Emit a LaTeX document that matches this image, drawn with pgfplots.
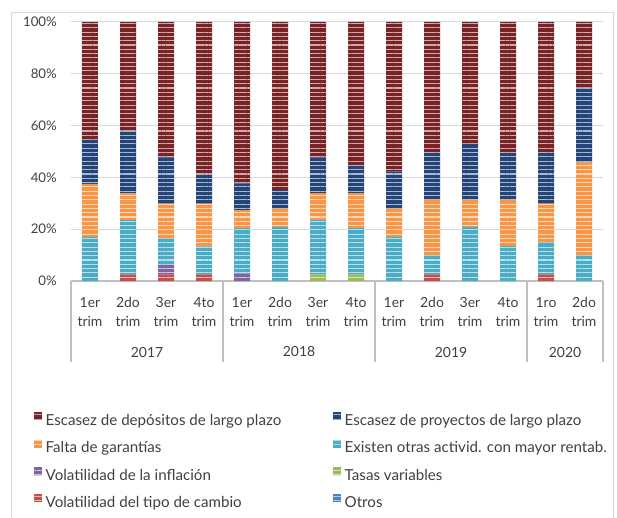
\documentclass[border=0pt]{standalone}
\usepackage{fontspec}
\setmainfont{Lato}
\usepackage{pgfplots}
\usepackage{pgfplotstable}
\pgfplotsset{compat=1.18}
\usetikzlibrary{patterns.meta}
\definecolor{cdred}{HTML}{782426}
\definecolor{cdblue}{HTML}{24457A}
\definecolor{corange}{HTML}{F79646}
\definecolor{ccyan}{HTML}{4BACC6}
\definecolor{cpurple}{HTML}{8064A2}
\definecolor{cgreen}{HTML}{9BBB59}
\definecolor{cred}{HTML}{C0504D}
\definecolor{cotros}{HTML}{4F81BD}
\definecolor{ctext}{HTML}{404040}
\definecolor{cgrid}{HTML}{D9D9D9}
\definecolor{csep}{HTML}{BFBFBF}
\definecolor{cframe}{HTML}{D9D9D9}

\pgfplotstableread{
x otros red green purple cyan orange dblue dred
0  0 0   0   0   17.0 20.5 17.0 45.5
1  0 2.6 0   0   20.9 10.3 24.2 42.0
2  0 2.6 0   3.6 10.2 13.5 17.7 52.4
3  0 2.6 0   0   10.8 16.5 11.0 59.1
4  0 0   0   2.8 17.6 7.0  10.3 62.3
5  0 0   0   0   20.9 7.0  7.2  64.9
6  0 0   2.6 0   20.9 10.4 13.7 52.4
7  0 0   2.6 0   17.8 13.5 10.5 55.6
8  0 0   0   0   17.0 10.9 14.3 57.8
9  0 2.6 0   0   7.3  21.5 18.0 50.6
10 0 0   0   0   20.9 10.5 21.5 47.1
11 0 0   0   0   13.5 17.9 18.0 50.6
12 0 2.6 0   0   12.2 15.1 19.5 50.6
13 0 0   0   0   9.9  35.9 28.8 25.4
}\data

\pgfplotsset{
  striped/.style={fill=#1, draw=none,
    postaction={pattern={Lines[angle=0,distance=4.3bp,line width=1.1bp]}, pattern color=white!62!#1},
    legend image code/.code={\path[##1,draw=none] (0bp,0bp) rectangle (8bp,8bp);}},
}
\newcommand\legent[1]{\makebox[287bp][l]{\rule[-4bp]{0pt}{16bp}#1}}
\newcommand\tfont{\fontsize{14}{19}\selectfont}
\newcommand\yfont{\fontsize{13.3}{16}\selectfont}
\newcommand\lfont{\fontsize{15.2}{18}\selectfont}

\begin{document}
\begin{tikzpicture}[x=1bp,y=1bp]
\useasboundingbox (-71,-237) rectangle (546,281);
\draw[cframe, line width=1bp] (-59,-245) -- (-59,268) -- (542,268) -- (542,-245);
\begin{axis}[
  scale only axis, width=532bp, height=259bp,
  ybar stacked, bar width=16bp,
  xmin=-0.5, xmax=13.5, ymin=0, ymax=100,
  axis line style={draw=none},
  major tick length=0pt,
  ymajorgrids, grid style={cgrid, line width=1bp},
  ytick={0,20,40,60,80,100},
  yticklabels={0\%,20\%,40\%,60\%,80\%,100\%},
  yticklabel style={anchor=east, inner xsep=0pt, xshift=-14bp, font=\yfont, text=ctext},
  xtick={0,...,13},
  xticklabels={{1er\\trim},{2do\\trim},{3er\\trim},{4to\\trim},{1er\\trim},{2do\\trim},{3er\\trim},{4to\\trim},{1er\\trim},{2do\\trim},{3er\\trim},{4to\\trim},{1ro\\trim},{2do\\trim}},
  xticklabel style={align=center, anchor=north, yshift=-13bp, font=\tfont, text=ctext},
  clip=false,
  reverse legend,
  legend columns=2,
  legend style={draw=none, fill=none, inner sep=0pt, anchor=north west,
    at={(axis description cs:-0.0705,-0.5056)},
    font=\lfont, text=ctext,
    nodes={inner xsep=0pt, inner ysep=0pt},
    row sep=12.7bp,
    /tikz/every odd column/.style={column sep=4bp}},
  legend cell align=left,
]
\addplot[striped=cotros] table[x=x,y=otros]{\data};
\addplot[striped=cred] table[x=x,y=red]{\data};
\addplot[striped=cgreen] table[x=x,y=green]{\data};
\addplot[striped=cpurple] table[x=x,y=purple]{\data};
\addplot[striped=ccyan] table[x=x,y=cyan]{\data};
\addplot[striped=corange] table[x=x,y=orange]{\data};
\addplot[striped=cdblue] table[x=x,y=dblue]{\data};
\addplot[striped=cdred] table[x=x,y=dred]{\data};
\legend{\legent{Otros},\legent{Volatilidad del tipo de cambio},\legent{Tasas variables},\legent{Volatilidad de la inflación},\legent{Existen otras activid. con mayor rentab.},\legent{Falta de garantías},\legent{Escasez de proyectos de largo plazo},\legent{Escasez de depósitos de largo plazo}}
\draw[csep, line width=2.5bp] (axis cs:-0.5,0) -- (axis cs:13.5,0);
\draw[csep, line width=2.5bp] (axis cs:-0.5,0) -- ++(0bp,-81bp);
\draw[csep, line width=2.5bp] (axis cs:3.5,0) -- ++(0bp,-81bp);
\draw[csep, line width=2.5bp] (axis cs:7.5,0) -- ++(0bp,-81bp);
\draw[csep, line width=2.5bp] (axis cs:11.5,0) -- ++(0bp,-81bp);
\draw[csep, line width=2.5bp] (axis cs:13.5,0) -- ++(0bp,-81bp);
\path (axis cs:1.5,0) ++(0bp,-71bp) node[text=ctext, font=\tfont] {2017};
\path (axis cs:5.5,0) ++(0bp,-71bp) node[text=ctext, font=\tfont] {2018};
\path (axis cs:9.5,0) ++(0bp,-71bp) node[text=ctext, font=\tfont] {2019};
\path (axis cs:12.5,0) ++(0bp,-71bp) node[text=ctext, font=\tfont] {2020};
\end{axis}
\end{tikzpicture}
\end{document}
